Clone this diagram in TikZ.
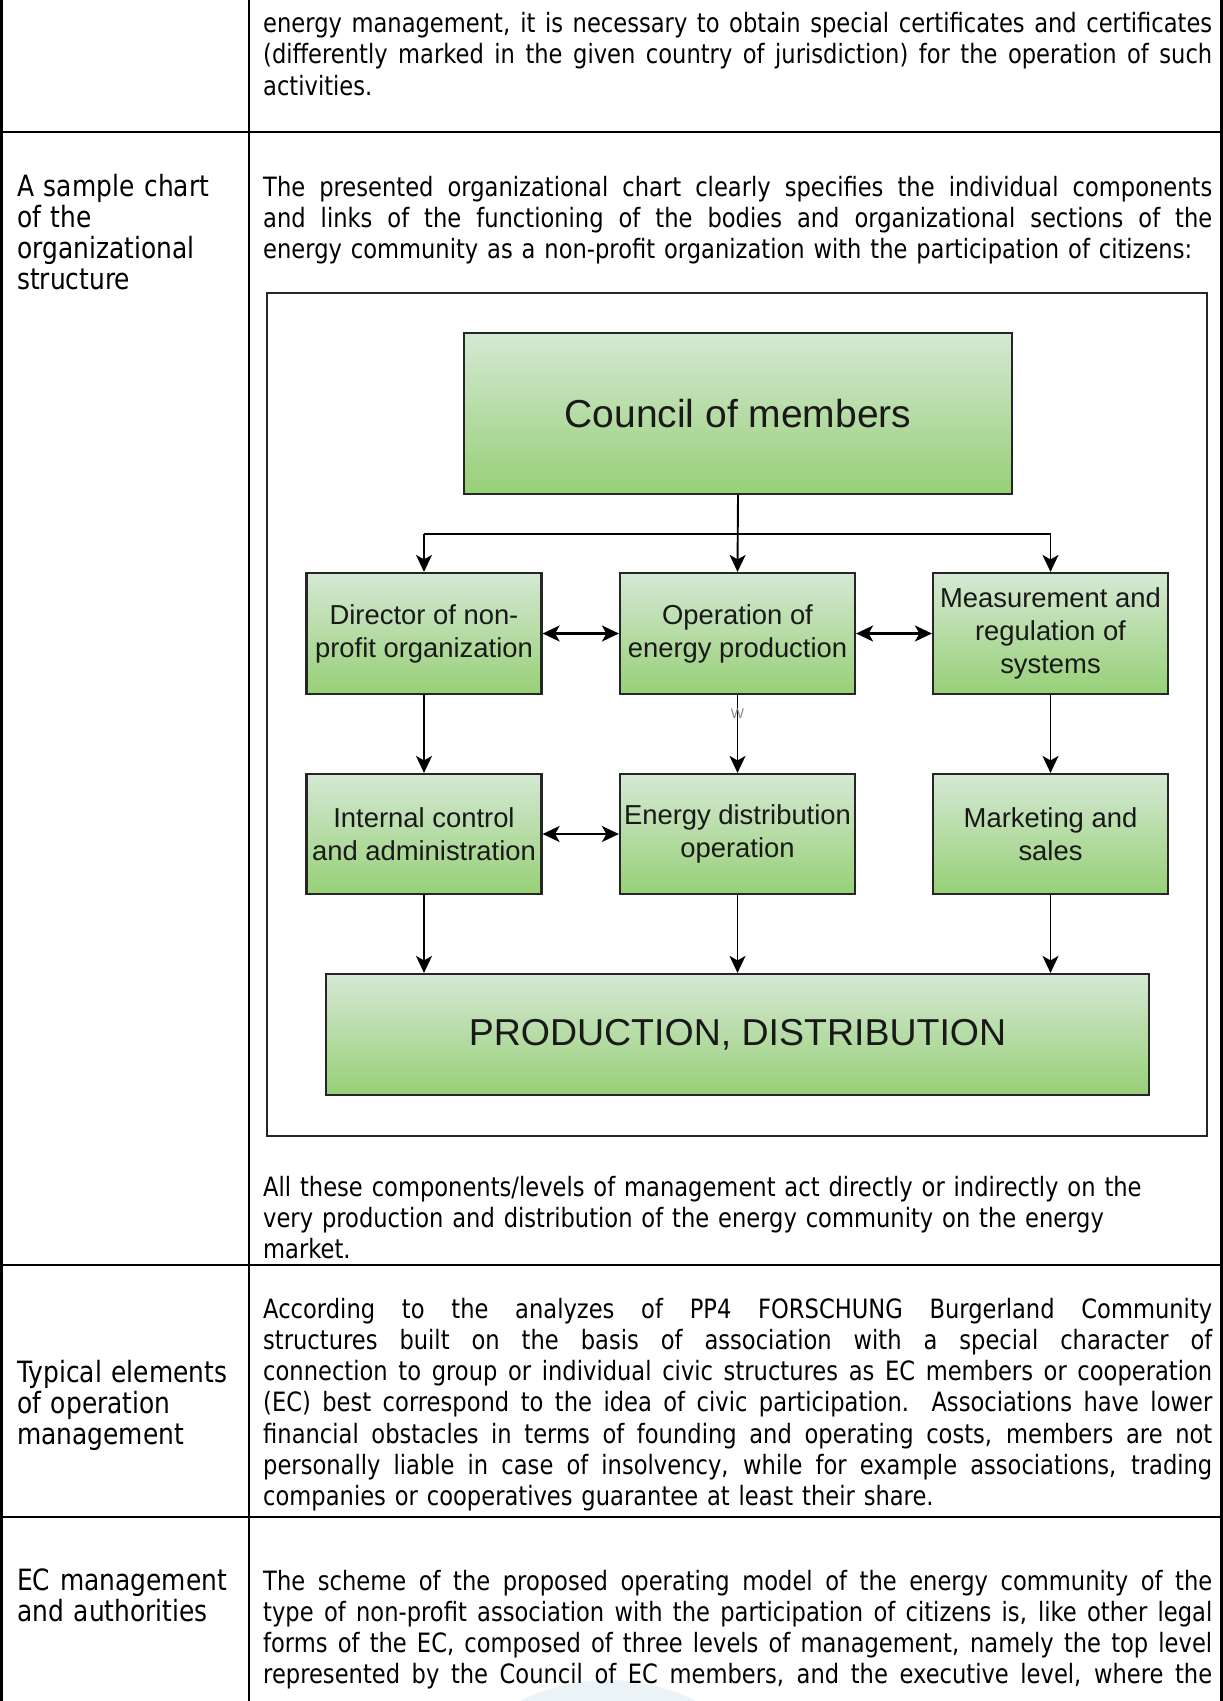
\documentclass[tikz,border=0pt]{standalone}
\usepackage{fontspec}
\setmainfont{DejaVu Sans}
\newfontfamily\cellfont[FakeStretch=0.85]{DejaVu Sans}
\newfontfamily\chartfont{Liberation Sans}
\usetikzlibrary{arrows.meta}

\definecolor{boxtop}{HTML}{D5E8D4}
\definecolor{boxbot}{HTML}{97D077}
\definecolor{boxline}{HTML}{262626}
\definecolor{wmark}{HTML}{EAF3F5}

% width of the right-hand column text; \jl sets one justified line
\newlength{\bodyw}
\setlength{\bodyw}{949pt}
\newcommand{\jl}[1]{{\spaceskip=0pt\xspaceskip=0pt\makebox[\bodyw][s]{#1}}}

\begin{document}
\begin{tikzpicture}[x=1pt,y=-1pt,
  tablerule/.style={line width=2.6pt, draw=black},
  body/.style={anchor=base west, inner sep=0pt, text width=\bodyw, align=left,
    font=\cellfont\fontsize{26.6}{31.3}\selectfont},
  head/.style={anchor=base west, inner sep=0pt, text width=228pt, align=left,
    font=\cellfont\fontsize{29.3}{31.3}\selectfont},
  orgbox/.style={draw=boxline, line width=2.2pt, top color=boxtop, bottom color=boxbot,
    inner sep=0pt, align=center, text=black!90,
    minimum width=235pt, minimum height=121pt,
    font=\chartfont\fontsize{27.4}{33}\selectfont},
  tip/.tip={Stealth[length=17pt,width=16pt,inset=4.5pt]},
  link/.style={line width=1.9pt, -tip},
  dlink/.style={line width=2.1pt, tip-tip},
]
\useasboundingbox (0,0) rectangle (1223,1701);

% faint logo mark at the foot of the page
\begin{scope}
  \clip (0,0) rectangle (1223,1701);
  \fill[wmark] (608,1873) circle (193pt);
\end{scope}

% table rules
\draw[tablerule] (1.3,0) -- (1.3,1701);
\draw[tablerule] (249,0) -- (249,1701);
\draw[tablerule] (1221.7,0) -- (1221.7,1701);
\draw[tablerule] (0,132) -- (1223,132);
\draw[tablerule] (0,1265) -- (1223,1265);
\draw[tablerule] (0,1517) -- (1223,1517);

% row 1
\node[body] (r1body) at (263,32.5) {\noindent
\jl{energy management, it is necessary to obtain special certificates and certificates}\\
\jl{(differently marked in the given country of jurisdiction) for the operation of such}\\
\mbox{activities.}};

% row 2
\node[head] (r2head) at (17,196) {A sample chart\\of the\\organizational\\structure};
\node[body] (r2body) at (263,196) {\noindent
\jl{The presented organizational chart clearly specifies the individual components}\\
\jl{and links of the functioning of the bodies and organizational sections of the}\\
\mbox{energy community as a non-profit organization with the participation of citizens:}};

% organisational chart
\node[draw=black!85, line width=1.8pt, minimum width=940pt, minimum height=843pt,
  inner sep=0pt] (frame) at (737,714.5) {};

\node[orgbox, minimum width=548pt, minimum height=161pt,
  font=\chartfont\fontsize{39}{44}\selectfont] (council) at (738,413.5) {Council of members};

\node[orgbox] (dir)  at (424,633.5)    {Director of non-\\profit organization};
\node[orgbox] (ope)  at (737.5,633.5)  {Operation of\\energy production};
\node[orgbox] (meas) at (1050.5,633.5) {Measurement and\\regulation of\\systems};

\node[orgbox, minimum height=120pt] (ica)  at (424,834)    {Internal control\\and administration};
\node[orgbox, minimum height=120pt] (edo)  at (737.5,834)  {Energy distribution\\operation};
\node[orgbox, minimum height=120pt] (mks)  at (1050.5,834) {Marketing and\\sales};

\node[orgbox, minimum width=823pt, minimum height=121pt,
  font=\chartfont\fontsize{37.5}{42}\selectfont] (prod) at (737.5,1034.5) {PRODUCTION, DISTRIBUTION};

% connectors
\coordinate (br) at (737.5,534);
\draw[line width=1.9pt] (dir.north |- br) -- (meas.north |- br);
\draw[link] (council.south) -- (ope.north);
\draw[link] (dir.north |- br) -- (dir.north);
\draw[link] (meas.north |- br) -- (meas.north);

\draw[dlink] (dir.east) -- (ope.west);
\draw[dlink] (ope.east) -- (meas.west);
\draw[dlink] (ica.east) -- (edo.west);

\draw[link] (dir.south) -- (ica.north);
\draw[link] (ope.south) -- node[pos=0.24, inner sep=0pt, text=black!45,
  font=\chartfont\fontsize{14}{14}\selectfont] (wlabel) {W} (edo.north);
\draw[link] (meas.south) -- (mks.north);

\draw[link] (ica.south) -- (ica.south |- prod.north);
\draw[link] (edo.south) -- (edo.south |- prod.north);
\draw[link] (mks.south) -- (mks.south |- prod.north);

\node[body] (r2foot) at (263,1196) {\noindent
\mbox{All these components/levels of management act directly or indirectly on the}\\
\mbox{very production and distribution of the energy community on the energy}\\
\mbox{market.}};

% row 3
\node[head] (r3head) at (17,1382) {Typical elements\\of operation\\management};
\node[body] (r3body) at (263,1318) {\noindent
\jl{According to the analyzes of PP4 FORSCHUNG Burgerland Community}\\
\jl{structures built on the basis of association with a special character of}\\
\jl{connection to group or individual civic structures as EC members or cooperation}\\
\jl{(EC) best correspond to the idea of civic participation. Associations have lower}\\
\jl{financial obstacles in terms of founding and operating costs, members are not}\\
\jl{personally liable in case of insolvency, while for example associations, trading}\\
\mbox{companies or cooperatives guarantee at least their share.}};

% row 4
\node[head] (r4head) at (17,1590) {EC management\\and authorities};
\node[body] (r4body) at (263,1590) {\noindent
\jl{The scheme of the proposed operating model of the energy community of the}\\
\jl{type of non-profit association with the participation of citizens is, like other legal}\\
\jl{forms of the EC, composed of three levels of management, namely the top level}\\
\jl{represented by the Council of EC members, and the executive level, where the}};

\end{tikzpicture}
\end{document}
